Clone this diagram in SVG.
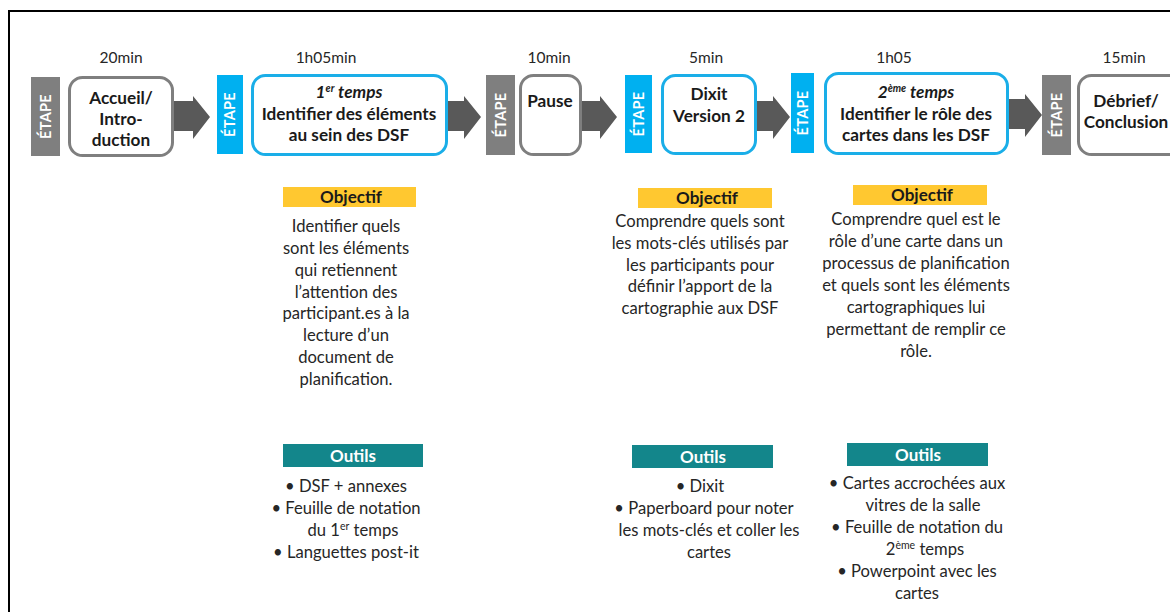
<svg xmlns="http://www.w3.org/2000/svg" width="1170" height="612" viewBox="0 0 1170 612">
<style>
text{font-family:Lato,"Open Sans","Liberation Sans",sans-serif;fill:#1a1a1a}
.t{font-size:15.5px;text-anchor:middle;fill:#262626}
.b{font-size:17.2px;font-weight:bold;text-anchor:middle}
.e{font-size:14.5px;font-weight:bold;fill:#fff;text-anchor:middle;letter-spacing:0.3px}
.o{font-size:16.6px;text-anchor:middle;fill:#262626}
.h{font-size:17px;font-weight:bold;text-anchor:middle}
.hw{font-size:17px;font-weight:bold;text-anchor:middle;fill:#fff}
.g{fill:#fff;stroke:#7f7f7f;stroke-width:3}
.bl{fill:#fff;stroke:#1aaee8;stroke-width:3}
.eg{fill:#7f7f7f}
.eb{fill:#00b0f0}
.ar{fill:#595959}
.y{fill:#ffc830}
.tl{fill:#13868b}
</style>
<rect x="9" y="11" width="1200" height="700" fill="#fff" stroke="#000" stroke-width="2"/>
<g id="connectors">
<path class="ar" d="M174,101 H193 V96 L210,117 L193,139 V131 H174 Z"/>
<path class="ar" d="M448,101 H464 V96 L481,117 L464,139 V131 H448 Z"/>
<path class="ar" d="M582,101 H600 V96 L617,117 L600,139 V131 H582 Z"/>
<path class="ar" d="M757,101 H773 V96 L790,117 L773,139 V131 H757 Z"/>
<path class="ar" d="M1009,99 H1025 V94 L1042,115 L1025,137 V129 H1009 Z"/>
</g>
<g id="step1">
<text class="t" x="121" y="63">20min</text>
<rect class="eg" x="31" y="77" width="29" height="79"/>
<text class="e" transform="translate(50.5,116.5) rotate(-90)">ÉTAPE</text>
<rect class="g" x="69.5" y="77.5" width="103" height="78" rx="13"/>
<text class="b" x="121" y="104">Accueil/</text>
<text class="b" x="121" y="125">Intro-</text>
<text class="b" x="121" y="146">duction</text>
</g>
<g id="step2">
<text class="t" x="326" y="63">1h05min</text>
<rect class="eb" x="217" y="75" width="26" height="79"/>
<text class="e" transform="translate(235,114.5) rotate(-90)">ÉTAPE</text>
<rect class="bl" x="252.5" y="75.5" width="194" height="79" rx="13"/>
<text class="b" x="349" y="98" font-style="italic">1<tspan font-size="10.5" dy="-6">er</tspan><tspan dy="6"> temps</tspan></text>
<text class="b" x="349" y="120">Identifier des éléments</text>
<text class="b" x="349" y="141">au sein des DSF</text>
</g>
<g id="step3">
<text class="t" x="549" y="63">10min</text>
<rect class="eg" x="486" y="75" width="29" height="80"/>
<text class="e" transform="translate(505.5,115) rotate(-90)">ÉTAPE</text>
<rect class="g" x="520.5" y="75.5" width="60" height="79" rx="13"/>
<text class="b" x="550" y="107">Pause</text>
</g>
<g id="step4">
<text class="t" x="706" y="63">5min</text>
<rect class="eb" x="625" y="75" width="27" height="78"/>
<text class="e" transform="translate(643.5,114) rotate(-90)">ÉTAPE</text>
<rect class="bl" x="662.5" y="75.5" width="93" height="78" rx="13"/>
<text class="b" x="709" y="100">Dixit</text>
<text class="b" x="709" y="122">Version 2</text>
</g>
<g id="step5">
<text class="t" x="894" y="63">1h05</text>
<rect class="eb" x="791" y="73" width="23" height="80"/>
<text class="e" transform="translate(807.5,113) rotate(-90)">ÉTAPE</text>
<rect class="bl" x="825.5" y="73.5" width="182" height="80" rx="13"/>
<text class="b" x="916" y="98" font-style="italic">2<tspan font-size="10.5" dy="-6">ème</tspan><tspan dy="6"> temps</tspan></text>
<text class="b" x="916" y="120">Identifier le rôle des</text>
<text class="b" x="916" y="141">cartes dans les DSF</text>
</g>
<g id="step6">
<text class="t" x="1124" y="63">15min</text>
<rect class="eg" x="1042" y="75" width="29" height="80"/>
<text class="e" transform="translate(1061.5,115) rotate(-90)">ÉTAPE</text>
<rect class="g" x="1078.5" y="75.5" width="110" height="79" rx="13"/>
<text class="b" x="1126" y="107">Débrief/</text>
<text class="b" x="1126" y="128">Conclusion</text>
</g>
<g id="objectif1">
<rect class="y" x="283" y="187" width="133" height="20"/>
<text class="h" x="351" y="203">Objectif</text>
<text class="o"><tspan x="346" y="232">Identifier quels</tspan><tspan x="346" y="254">sont les éléments</tspan><tspan x="346" y="276">qui retiennent</tspan><tspan x="346" y="298">l’attention des</tspan><tspan x="346" y="319">participant.es à la</tspan><tspan x="346" y="341">lecture  d’un</tspan><tspan x="346" y="363">document de</tspan><tspan x="346" y="385">planification.</tspan></text>
</g>
<g id="objectif2">
<rect class="y" x="638" y="188" width="134" height="20"/>
<text class="h" x="707" y="204">Objectif</text>
<text class="o"><tspan x="700" y="227">Comprendre quels sont</tspan><tspan x="700" y="249">les mots-clés utilisés par</tspan><tspan x="700" y="271">les participants pour</tspan><tspan x="700" y="292">définir l’apport de la</tspan><tspan x="700" y="314">cartographie aux DSF</tspan></text>
</g>
<g id="objectif3">
<rect class="y" x="853" y="185" width="134" height="20"/>
<text class="h" x="922" y="201">Objectif</text>
<text class="o"><tspan x="916" y="225">Comprendre quel est le</tspan><tspan x="916" y="247">rôle d’une carte dans un</tspan><tspan x="916" y="269">processus de planification</tspan><tspan x="916" y="291">et quels sont les éléments</tspan><tspan x="916" y="313">cartographiques lui</tspan><tspan x="916" y="335">permettant de remplir ce</tspan><tspan x="916" y="357">rôle.</tspan></text>
</g>
<g id="outils1">
<rect class="tl" x="283" y="444" width="140" height="23"/>
<text class="hw" x="353" y="462">Outils</text>
<text class="o"><tspan x="346" y="492">•  DSF + annexes</tspan><tspan x="346" y="514">•  Feuille de notation</tspan><tspan x="353" y="536">du 1<tspan font-size="10.5" dy="-6">er</tspan><tspan dy="6"> temps</tspan></tspan><tspan x="346" y="558">•  Languettes post-it</tspan></text>
</g>
<g id="outils2">
<rect class="tl" x="632" y="445" width="141" height="23"/>
<text class="hw" x="703" y="463">Outils</text>
<text class="o"><tspan x="700" y="492">•  Dixit</tspan><tspan x="704" y="514">•  Paperboard pour noter</tspan><tspan x="709" y="536">les mots-clés et coller les</tspan><tspan x="709" y="558">cartes</tspan></text>
</g>
<g id="outils3">
<rect class="tl" x="847" y="443" width="141" height="23"/>
<text class="hw" x="918" y="461">Outils</text>
<text class="o"><tspan x="917" y="489">•  Cartes accrochées aux</tspan><tspan x="923" y="511">vitres de la salle</tspan><tspan x="917" y="533">•  Feuille de notation du</tspan><tspan x="925" y="555">2<tspan font-size="10.5" dy="-6">ème</tspan><tspan dy="6"> temps</tspan></tspan><tspan x="917" y="577">•  Powerpoint avec les</tspan><tspan x="917" y="599">cartes</tspan></text>
</g>
</svg>
